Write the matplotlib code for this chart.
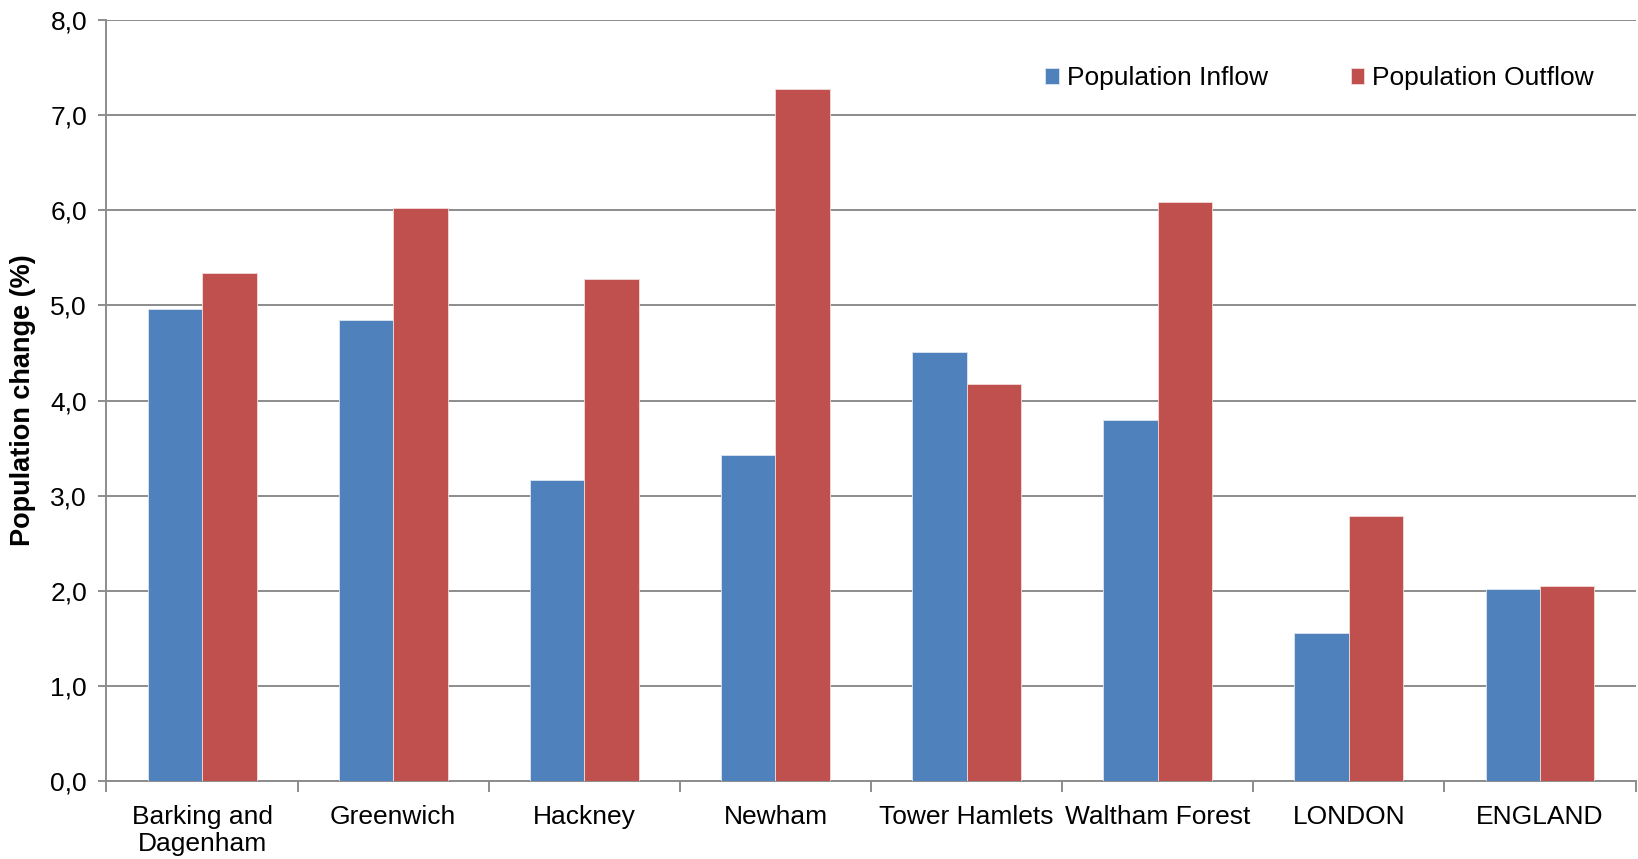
import numpy as np
import matplotlib
matplotlib.use("Agg")
import matplotlib.pyplot as plt

# population flows as a share of the resident population
boroughs = ["Barking and\nDagenham", "Greenwich", "Hackney", "Newham",
            "Tower Hamlets", "Waltham Forest", "LONDON", "ENGLAND"]
inflow = [4.96, 4.85, 3.16, 3.43, 4.51, 3.79, 1.56, 2.02]
outflow = [5.34, 6.02, 5.28, 7.27, 4.17, 6.09, 2.79, 2.05]
series_names = ["Population Inflow", "Population Outflow"]
y_ticks = np.arange(0, 8.5, 1.0)

plt.rcParams["font.family"] = ["Liberation Sans", "DejaVu Sans"]

fig = plt.figure(figsize=(16.38, 8.59), dpi=100)
ax = fig.add_axes([0.065, 0.0905, 0.9335, 0.8865])

x = np.arange(len(boroughs))
w = 0.285
ax.bar(x - w / 2, inflow, w, color="#4F81BD", edgecolor="#DCE6F2",
       linewidth=0.6, label=series_names[0], zorder=3)
ax.bar(x + w / 2, outflow, w, color="#C0504D", edgecolor="#F2DCDB",
       linewidth=0.6, label=series_names[1], zorder=3)

ax.set_xlim(-0.5, len(boroughs) - 0.5)
ax.set_ylim(0, 8)
ax.set_yticks(y_ticks)
ax.set_yticklabels([f"{v:.1f}".replace(".", ",") for v in y_ticks])
ax.yaxis.grid(True, color="#8C8C8C", linewidth=1.4, zorder=0)

# category ticks sit on the boundaries, labels in the middle
ax.set_xticks(np.arange(-0.5, len(boroughs)), minor=False)
ax.set_xticklabels([])
ax.set_xticks(x, minor=True)
ax.set_xticklabels(boroughs, minor=True, linespacing=1.15)
ax.tick_params(axis="x", which="major", length=8, width=1.4, color="#8C8C8C")
ax.tick_params(axis="x", which="minor", length=0, pad=17, labelsize=19)
ax.tick_params(axis="y", length=6, width=1.4, color="#8C8C8C",
               labelsize=19, pad=8)

for side in ("top", "right"):
    ax.spines[side].set_visible(False)
for side in ("left", "bottom"):
    ax.spines[side].set_color("#8C8C8C")
    ax.spines[side].set_linewidth(1.4)

ax.set_ylabel("Population change (%)", fontsize=19.5, fontweight="bold",
              labelpad=10)

ax.legend(loc="upper right", bbox_to_anchor=(0.988, 0.97), ncol=2,
          frameon=False, fontsize=19, handlelength=0.5, handleheight=0.5,
          handletextpad=0.3, columnspacing=3.15)

fig.savefig("out.png", dpi=100)
